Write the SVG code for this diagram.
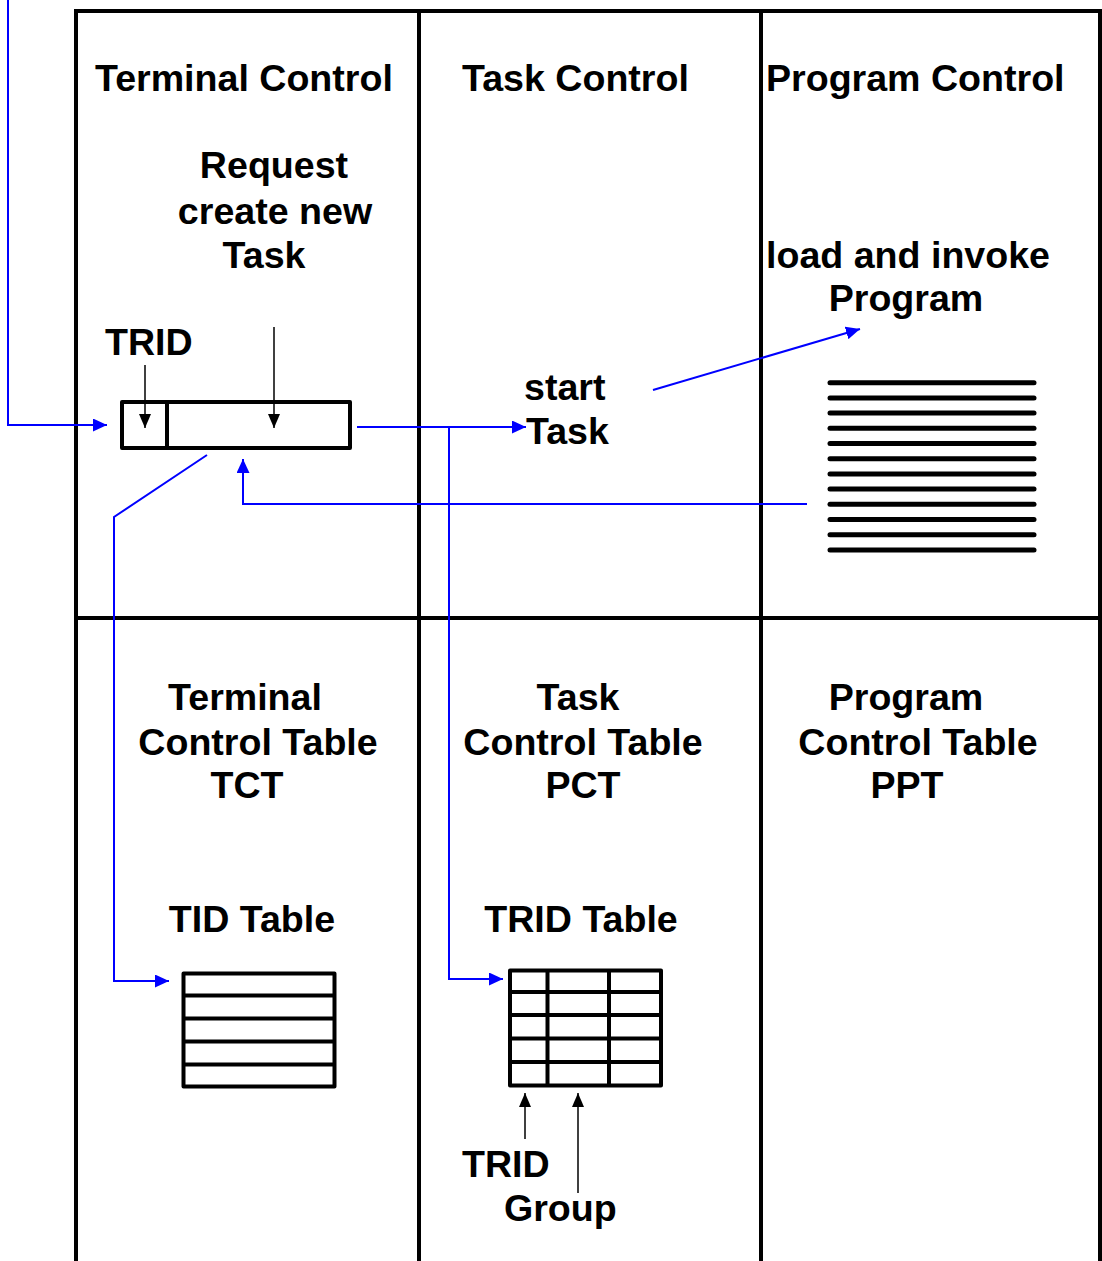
<svg xmlns="http://www.w3.org/2000/svg" width="1102" height="1261" viewBox="0 0 1102 1261">
<style>
.t{font-family:"Liberation Sans",Arial,sans-serif;font-weight:bold;font-size:37.6px;fill:#000}
.grid{stroke:#000;stroke-width:4;fill:none}
.blue{stroke:#0000ff;stroke-width:2;fill:none}
.thin{stroke:#000;stroke-width:1.5;fill:none}
.tbl{stroke:#000;stroke-width:4;fill:none;stroke-linejoin:round}
.prog{stroke:#000;stroke-width:5;stroke-linecap:round}
</style>
<defs>
<marker id="ab" markerUnits="userSpaceOnUse" markerWidth="14" markerHeight="13" refX="14" refY="6.5" orient="auto"><path d="M0,0 L14,6.5 L0,13 z" fill="#0000ff"/></marker>
<marker id="ak" markerUnits="userSpaceOnUse" markerWidth="14" markerHeight="12" refX="14" refY="6" orient="auto"><path d="M0,0 L14,6 L0,12 z" fill="#000"/></marker>
</defs>
<rect width="1102" height="1261" fill="#fff"/>
<g id="grid">
<line class="grid" x1="76" y1="11" x2="1102" y2="11"/>
<line class="grid" x1="76" y1="618" x2="1102" y2="618"/>
<line class="grid" x1="76" y1="9" x2="76" y2="1261"/>
<line class="grid" x1="419" y1="9" x2="419" y2="1261"/>
<line class="grid" x1="761" y1="9" x2="761" y2="1261"/>
<line class="grid" x1="1100" y1="9" x2="1100" y2="1261"/>
</g>
<g id="terminal-control">
<text class="t" x="95" y="91">Terminal Control</text>
<text class="t" x="274" y="178" text-anchor="middle">Request</text>
<text class="t" x="275" y="224" text-anchor="middle">create new</text>
<text class="t" x="264" y="268" text-anchor="middle">Task</text>
<text class="t" x="105" y="355">TRID</text>
</g>
<g id="request-box">
<rect class="tbl" x="122" y="402" width="228" height="46" stroke-linejoin="miter"/>
<line class="tbl" x1="167" y1="402" x2="167" y2="450"/>
</g>
<g id="task-control">
<text class="t" x="462" y="91">Task Control</text>
<text class="t" x="524" y="400">start</text>
<text class="t" x="526" y="444">Task</text>
</g>
<g id="program-control">
<text class="t" x="766" y="91">Program Control</text>
<text class="t" x="766" y="268">load and invoke</text>
<text class="t" x="906" y="311" text-anchor="middle">Program</text>
</g>
<g id="program-listing">
<line class="prog" x1="830" y1="382.7" x2="1034" y2="382.7"/>
<line class="prog" x1="830" y1="397.9" x2="1034" y2="397.9"/>
<line class="prog" x1="830" y1="413.1" x2="1034" y2="413.1"/>
<line class="prog" x1="830" y1="428.3" x2="1034" y2="428.3"/>
<line class="prog" x1="830" y1="443.5" x2="1034" y2="443.5"/>
<line class="prog" x1="830" y1="458.7" x2="1034" y2="458.7"/>
<line class="prog" x1="830" y1="473.9" x2="1034" y2="473.9"/>
<line class="prog" x1="830" y1="489.1" x2="1034" y2="489.1"/>
<line class="prog" x1="830" y1="504.3" x2="1034" y2="504.3"/>
<line class="prog" x1="830" y1="519.5" x2="1034" y2="519.5"/>
<line class="prog" x1="830" y1="534.7" x2="1034" y2="534.7"/>
<line class="prog" x1="830" y1="549.9" x2="1034" y2="549.9"/>
</g>
<g id="tct">
<text class="t" x="245" y="710" text-anchor="middle">Terminal</text>
<text class="t" x="258" y="755" text-anchor="middle">Control Table</text>
<text class="t" x="247" y="798" text-anchor="middle">TCT</text>
<text class="t" x="252" y="932" text-anchor="middle">TID Table</text>
</g>
<g id="tid-table">
<rect class="tbl" x="183.5" y="973.5" width="151" height="113"/>
<line class="tbl" x1="183.5" y1="995.5" x2="334.5" y2="995.5"/>
<line class="tbl" x1="183.5" y1="1018.5" x2="334.5" y2="1018.5"/>
<line class="tbl" x1="183.5" y1="1041.5" x2="334.5" y2="1041.5"/>
<line class="tbl" x1="183.5" y1="1064.5" x2="334.5" y2="1064.5"/>
</g>
<g id="pct">
<text class="t" x="578" y="710" text-anchor="middle">Task</text>
<text class="t" x="583" y="755" text-anchor="middle">Control Table</text>
<text class="t" x="583" y="798" text-anchor="middle">PCT</text>
<text class="t" x="581" y="932" text-anchor="middle">TRID Table</text>
<text class="t" x="462" y="1177">TRID</text>
<text class="t" x="504" y="1221">Group</text>
</g>
<g id="trid-table">
<rect class="tbl" x="510" y="970.5" width="151" height="115"/>
<line class="tbl" x1="510" y1="992" x2="661" y2="992"/>
<line class="tbl" x1="510" y1="1015" x2="661" y2="1015"/>
<line class="tbl" x1="510" y1="1038.5" x2="661" y2="1038.5"/>
<line class="tbl" x1="510" y1="1062" x2="661" y2="1062"/>
<line class="tbl" x1="547.5" y1="970.5" x2="547.5" y2="1085.5"/>
<line class="tbl" x1="609" y1="970.5" x2="609" y2="1085.5"/>
</g>
<g id="ppt">
<text class="t" x="906" y="710" text-anchor="middle">Program</text>
<text class="t" x="918" y="755" text-anchor="middle">Control Table</text>
<text class="t" x="907" y="798" text-anchor="middle">PPT</text>
</g>
<g id="connectors">
<polyline class="blue" points="8,0 8,425 107,425" marker-end="url(#ab)"/>
<line class="blue" x1="357" y1="427" x2="526" y2="427" marker-end="url(#ab)"/>
<polyline class="blue" points="449,427 449,979 503,979" marker-end="url(#ab)"/>
<polyline class="blue" points="807,504 243,504 243,459" marker-end="url(#ab)"/>
<polyline class="blue" points="207,455 114,517 114,981 169,981" marker-end="url(#ab)"/>
<line class="blue" x1="653" y1="390" x2="860" y2="329" marker-end="url(#ab)"/>
<line class="thin" x1="145" y1="365" x2="145" y2="428" marker-end="url(#ak)"/>
<line class="thin" x1="274" y1="327" x2="274" y2="428" marker-end="url(#ak)"/>
<line class="thin" x1="525" y1="1139" x2="525" y2="1093" marker-end="url(#ak)"/>
<line class="thin" x1="578" y1="1193" x2="578" y2="1093" marker-end="url(#ak)"/>
</g>
</svg>
